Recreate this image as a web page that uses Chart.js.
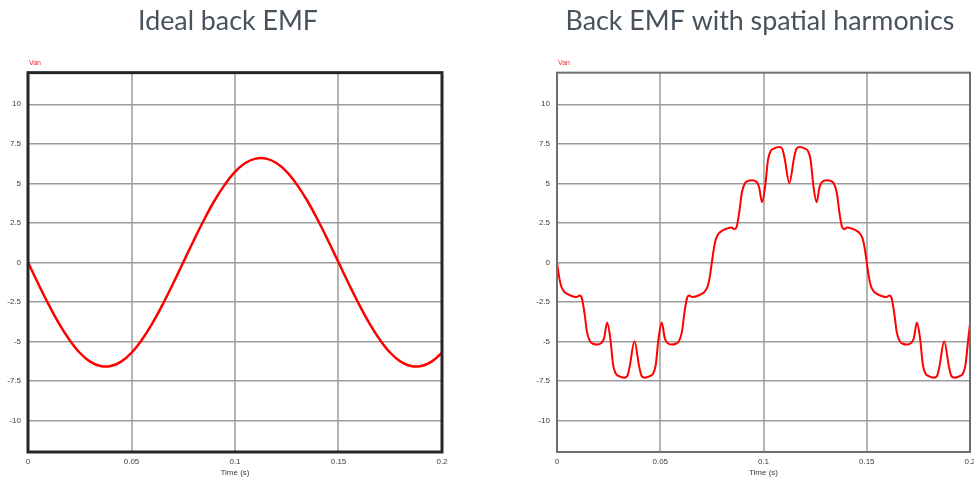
<!DOCTYPE html>
<html>
<head>
<meta charset="utf-8">
<script src="https://cdn.jsdelivr.net/npm/chart.js@4"></script>
<style>
  body { margin: 0; background: #fff; overflow: hidden; width: 974px; height: 481px; position: relative; }
  canvas { position: absolute; top: 0; }
  #idealChart { left: 0; }
  #harmChart { left: 520px; }
</style>
</head>
<body>
<canvas id="idealChart" width="456" height="481"></canvas>
<canvas id="harmChart" width="480" height="481"></canvas>
<script>
// axis ticks
const xTickValues = [0, 0.05, 0.1, 0.15, 0.2];
const xTickLabels = ['0', '0.05', '0.1', '0.15', '0.2'];
const yTickValues = [-10, -7.5, -5, -2.5, 0, 2.5, 5, 7.5, 10];
const yTickLabels = ['-10', '-7.5', '-5', '-2.5', '0', '2.5', '5', '7.5', '10'];

// ideal back EMF (Van), read every 5 ms
const idealTime = [0, 0.005, 0.01, 0.015, 0.02, 0.025, 0.03, 0.035, 0.04, 0.045,
  0.05, 0.055, 0.06, 0.065, 0.07, 0.075, 0.08, 0.085, 0.09, 0.095,
  0.1, 0.105, 0.11, 0.115, 0.12, 0.125, 0.13, 0.135, 0.14, 0.145,
  0.15, 0.155, 0.16, 0.165, 0.17, 0.175, 0.18, 0.185, 0.19, 0.195, 0.2];
const idealVan = [0, -1.37, -2.68, -3.88, -4.9, -5.72, -6.28, -6.56, -6.56, -6.28,
  -5.72, -4.9, -3.88, -2.68, -1.37, 0, 1.37, 2.68, 3.88, 4.9,
  5.72, 6.28, 6.56, 6.56, 6.28, 5.72, 4.9, 3.88, 2.68, 1.37,
  0, -1.37, -2.68, -3.88, -4.9, -5.72, -6.28, -6.56, -6.56, -6.28, -5.72];

// back EMF with spatial harmonics (Van)
const harmTime = [0, 0.001, 0.002, 0.0035, 0.005, 0.0075, 0.0095, 0.011, 0.012, 0.0133,
  0.0145, 0.016, 0.0175, 0.0195, 0.0215, 0.0228, 0.0243, 0.0258, 0.0272, 0.0285,
  0.03, 0.0325, 0.034, 0.0352, 0.0375, 0.0398, 0.041, 0.0425, 0.045, 0.0465,
  0.0478, 0.0492, 0.0507, 0.0522, 0.0535, 0.0555, 0.0575, 0.059, 0.0605, 0.0617,
  0.063, 0.064, 0.0655, 0.0675, 0.07, 0.0715, 0.073, 0.074,
  0.075, 0.076, 0.077, 0.0785, 0.08, 0.0825, 0.0845, 0.086, 0.087, 0.0883,
  0.0895, 0.091, 0.0925, 0.0945, 0.0965, 0.0978, 0.0993, 0.1008, 0.1022, 0.1035,
  0.105, 0.1075, 0.109, 0.1102, 0.1125, 0.1148, 0.116, 0.1175, 0.12, 0.1215,
  0.1228, 0.1242, 0.1257, 0.1272, 0.1285, 0.1305, 0.1325, 0.134, 0.1355, 0.1367,
  0.138, 0.139, 0.1405, 0.1425, 0.145, 0.1465, 0.148, 0.149,
  0.15, 0.151, 0.152, 0.1535, 0.155, 0.1575, 0.1595, 0.161, 0.162, 0.1633,
  0.1645, 0.166, 0.1675, 0.1695, 0.1715, 0.1728, 0.1743, 0.1758, 0.1772, 0.1785,
  0.18, 0.1825, 0.184, 0.1852, 0.1875, 0.1898, 0.191, 0.1925, 0.195, 0.1965,
  0.1978, 0.1992, 0.2];
const harmVan = [0, -0.9, -1.5, -1.85, -2.0, -2.15, -2.2, -2.1, -2.25, -3.2,
  -4.4, -5.0, -5.15, -5.2, -5.1, -4.8, -3.8, -4.8, -6.5, -7.05,
  -7.2, -7.3, -7.2, -6.6, -5.0, -6.6, -7.2, -7.3, -7.2, -7.05,
  -6.5, -4.8, -3.8, -4.8, -5.1, -5.2, -5.15, -5.0, -4.4, -3.2,
  -2.25, -2.1, -2.2, -2.15, -2.0, -1.85, -1.5, -0.9,
  0, 0.9, 1.5, 1.85, 2.0, 2.15, 2.2, 2.1, 2.25, 3.2,
  4.4, 5.0, 5.15, 5.2, 5.1, 4.8, 3.8, 4.8, 6.5, 7.05,
  7.2, 7.3, 7.2, 6.6, 5.0, 6.6, 7.2, 7.3, 7.2, 7.05,
  6.5, 4.8, 3.8, 4.8, 5.1, 5.2, 5.15, 5.0, 4.4, 3.2,
  2.25, 2.1, 2.2, 2.15, 2.0, 1.85, 1.5, 0.9,
  0, -0.9, -1.5, -1.85, -2.0, -2.15, -2.2, -2.1, -2.25, -3.2,
  -4.4, -5.0, -5.15, -5.2, -5.1, -4.8, -3.8, -4.8, -6.5, -7.05,
  -7.2, -7.3, -7.2, -6.6, -5.0, -6.6, -7.2, -7.3, -7.2, -7.05,
  -6.5, -4.8, -3.9];

const tickFont = { family: 'Liberation Sans', size: 8 };
const tickColor = '#3a3a3a';

// frame round the plot + small red series name above it
const framePlugin = {
  id: 'frame',
  afterDraw(chart, args, opts) {
    const { ctx, chartArea: a } = chart;
    ctx.save();
    ctx.strokeStyle = opts.color;
    ctx.lineWidth = opts.width;
    ctx.strokeRect(a.left, a.top, a.right - a.left, a.bottom - a.top);
    ctx.fillStyle = '#ff2020';
    ctx.font = '7px "Liberation Sans"';
    ctx.textBaseline = 'middle';
    ctx.fillText(opts.label, a.left + 1, a.top - 10);
    ctx.restore();
  }
};

// spacer = empty right-hand axis, only there so the title sits where the slide has it
function makeOptions(title, yWidth, spacer, frameColor, frameWidth) {
  return {
    responsive: false,
    animation: false,
    layout: { padding: 0 },
    plugins: {
      legend: { display: false },
      tooltip: { enabled: false },
      title: {
        display: true,
        text: title,
        color: '#48525d',
        font: { family: 'Lato', size: 26.8, weight: 'normal' },
        padding: { top: 5.3, bottom: 35.2 }
      },
      frame: { color: frameColor, width: frameWidth, label: 'Van' }
    },
    scales: {
      x: {
        type: 'linear',
        min: 0,
        max: 0.2,
        afterBuildTicks: s => { s.ticks = xTickValues.map(v => ({ value: v })); },
        afterFit: s => { s.height = 29; },
        grid: { color: '#b4b4b4', lineWidth: 2, drawTicks: false },
        border: { display: false },
        ticks: {
          font: tickFont, color: tickColor, padding: 5, maxRotation: 0,
          callback: (v, i) => xTickLabels[i]
        },
        title: {
          display: true, text: 'Time (s)', font: tickFont, color: tickColor,
          padding: { top: 0, bottom: 3 }
        }
      },
      y: {
        min: -12,
        max: 12,
        afterBuildTicks: s => { s.ticks = yTickValues.map(v => ({ value: v })); },
        afterFit: s => { s.width = yWidth; },
        grid: { color: '#9c9c9c', lineWidth: 1.5, drawTicks: false },
        border: { display: false },
        ticks: {
          font: tickFont, color: tickColor, padding: 7,
          callback: (v, i) => yTickLabels[i]
        }
      },
      spacer: {
        position: 'right',
        display: true,
        afterFit: s => { s.width = spacer; },
        grid: { display: false },
        border: { display: false },
        ticks: { display: false }
      }
    }
  };
}

new Chart(document.getElementById('idealChart'), {
  type: 'line',
  data: {
    datasets: [{
      label: 'Van',
      data: idealTime.map((t, i) => ({ x: t, y: idealVan[i] })),
      borderColor: '#ff0000',
      borderWidth: 2.5,
      pointRadius: 0,
      tension: 0.4
    }]
  },
  options: makeOptions('Ideal back EMF', 28, 14, '#262626', 3),
  plugins: [framePlugin]
});

new Chart(document.getElementById('harmChart'), {
  type: 'line',
  data: {
    datasets: [{
      label: 'Van',
      data: harmTime.map((t, i) => ({ x: t, y: harmVan[i] })),
      borderColor: '#ff0000',
      borderWidth: 2,
      pointRadius: 0,
      cubicInterpolationMode: 'monotone'
    }]
  },
  options: makeOptions('Back EMF with spatial harmonics', 37, 30, '#6e6e6e', 2),
  plugins: [framePlugin]
});
</script>
</body>
</html>
